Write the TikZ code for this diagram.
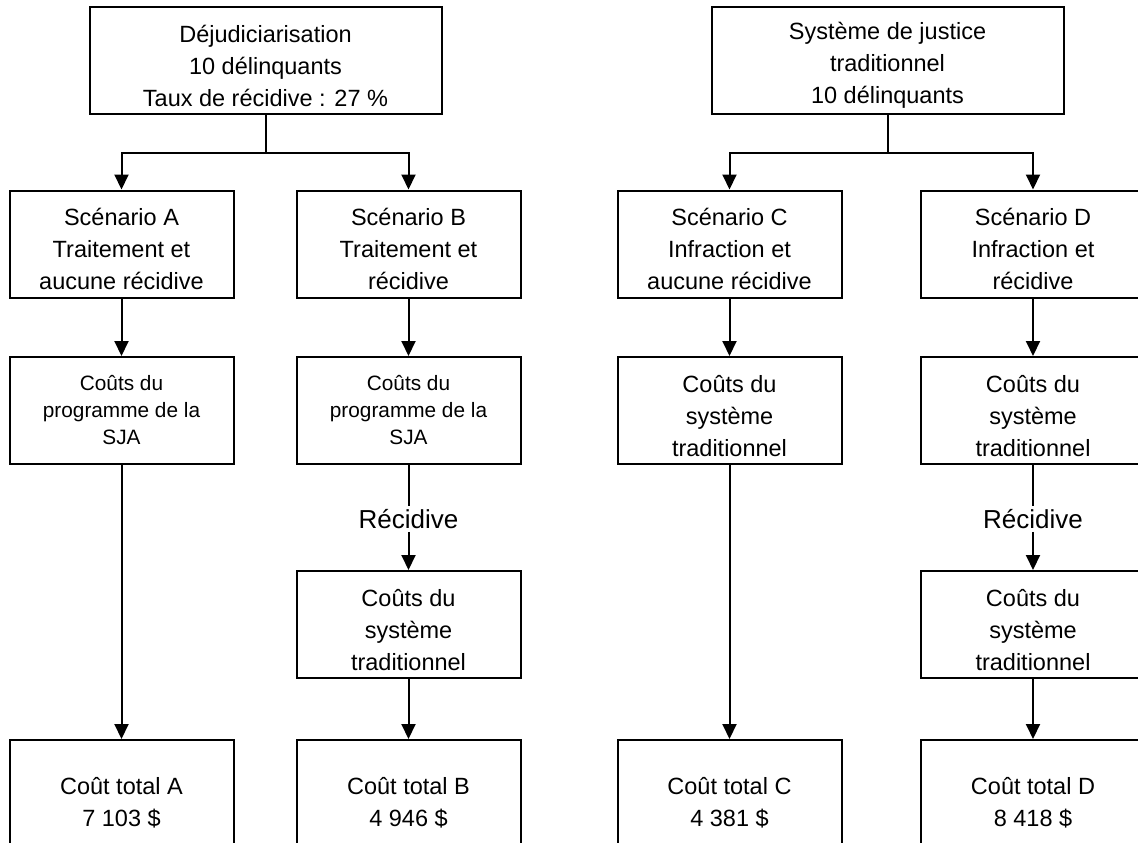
\documentclass[tikz,border=0pt]{standalone}
\usepackage{fontspec}
\setmainfont{Liberation Sans}
\usetikzlibrary{arrows.meta}
\newcommand{\lowstrut}{\rule{0pt}{27.5pt}}
\tikzset{
  box/.style={draw=black, line width=2pt, fill=white, align=center, inner sep=0pt,
    font=\fontsize{23.5}{32}\selectfont},
  smallbox/.style={box, font=\fontsize{20.8}{27}\selectfont},
  wide/.style={minimum width=352pt, minimum height=106pt},
  std/.style={minimum width=224pt, minimum height=107pt},
  tot/.style={minimum width=224pt, minimum height=126pt},
  lbl/.style={inner sep=3pt, font=\fontsize{26}{32}\selectfont},
  conn/.style={line width=2pt},
  arr/.style={line width=2pt, -{Triangle[length=15pt,width=14pt]}}
}
\begin{document}
\begin{tikzpicture}[x=1pt,y=-1pt]
\useasboundingbox (0,0) rectangle (1138,843);
\clip (0,0) rectangle (1138,843);
\fill[white] (0,0) rectangle (1138,843);
% top boxes
\node[box,wide] (topL) at (265.5,60.5) {\lowstrut Déjudiciarisation\\10 délinquants\\Taux de récidive : 27 \%};
\node[box,wide] (topR) at (887.5,60.5) {\lowstrut Système de justice\\traditionnel\\10 délinquants};
% scenario boxes
\node[box,std] (scA) at (121.5,244) {\lowstrut Scénario A\\Traitement et\\aucune récidive};
\node[box,std] (scB) at (408.5,244) {\lowstrut Scénario B\\Traitement et\\récidive};
\node[box,std] (scC) at (729.5,244) {\lowstrut Scénario C\\Infraction et\\aucune récidive};
\node[box,std] (scD) at (1033,244) {\lowstrut Scénario D\\Infraction et\\récidive};
% cost boxes
\node[smallbox,std] (costA) at (121.5,410.5) {Coûts du\\programme de la\\SJA};
\node[smallbox,std] (costB) at (408.5,410.5) {Coûts du\\programme de la\\SJA};
\node[box,std] (costC) at (729.5,410.5) {\lowstrut Coûts du\\système\\traditionnel};
\node[box,std] (costD) at (1033,410.5) {\lowstrut Coûts du\\système\\traditionnel};
% recidive labels
\node[lbl] (recB) at (408.5,519) {Récidive};
\node[lbl] (recD) at (1033,519) {Récidive};
% traditional boxes
\node[box,std] (tradB) at (408.5,624.5) {\lowstrut Coûts du\\système\\traditionnel};
\node[box,std] (tradD) at (1033,624.5) {\lowstrut Coûts du\\système\\traditionnel};
% total boxes
\node[box,tot] (totA) at (121.5,803) {Coût total A\\7 103 \$};
\node[box,tot] (totB) at (408.5,803) {Coût total B\\4 946 \$};
\node[box,tot] (totC) at (729.5,803) {Coût total C\\4 381 \$};
\node[box,tot] (totD) at (1033,803) {Coût total D\\8 418 \$};
% junctions
\coordinate (jL) at (265.5,152.5);
\coordinate (jR) at (887.5,152.5);
\draw[conn] (topL.south) -- (jL);
\draw[conn] (topR.south) -- (jR);
\draw[arr] (jL) -| (scA.north);
\draw[arr] (jL) -| (scB.north);
\draw[arr] (jR) -| (scC.north);
\draw[arr] (jR) -| (scD.north);
% vertical flows
\draw[arr] (scA) -- (costA);
\draw[arr] (scB) -- (costB);
\draw[arr] (scC) -- (costC);
\draw[arr] (scD) -- (costD);
\draw[arr] (costA) -- (totA);
\draw[conn] (costB) -- (recB);
\draw[arr] (recB) -- (tradB);
\draw[arr] (tradB) -- (totB);
\draw[arr] (costC) -- (totC);
\draw[conn] (costD) -- (recD);
\draw[arr] (recD) -- (tradD);
\draw[arr] (tradD) -- (totD);
\end{tikzpicture}
\end{document}
